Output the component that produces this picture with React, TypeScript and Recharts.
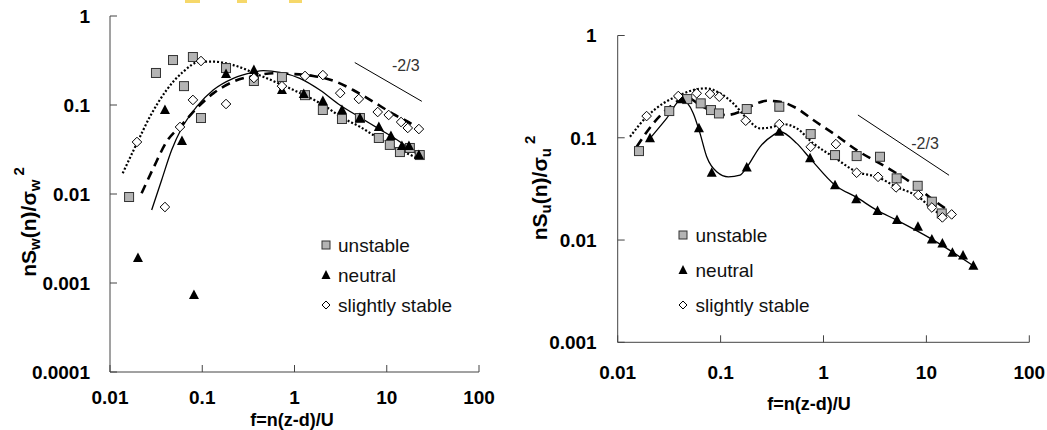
import React from 'react';
import {
  ComposedChart,
  Line,
  Scatter,
  XAxis,
  YAxis,
  Legend,
  ReferenceLine,
  ReferenceDot,
} from 'recharts';

type P = { x: number; y: number };

// ---------- axis ticks ----------
const xTicks = [0.01, 0.1, 1, 10, 100];
const yTicksW = [0.0001, 0.001, 0.01, 0.1, 1];
const yTicksU = [0.001, 0.01, 0.1, 1];
const seriesNames = ['unstable', 'neutral', 'slightly stable'];
const xTitle = 'f=n(z-d)/U';
const slopeText = '-2/3';

// ---------- left panel: nSw(n)/sigma_w^2 ----------
const wUnstable: P[] = [
  { x: 0.0161, y: 0.00925 }, { x: 0.0315, y: 0.229 }, { x: 0.0482, y: 0.32 },
  { x: 0.0792, y: 0.346 }, { x: 0.0634, y: 0.163 }, { x: 0.0969, y: 0.0714 },
  { x: 0.181, y: 0.26 }, { x: 0.363, y: 0.186 }, { x: 0.731, y: 0.206 },
  { x: 1.3, y: 0.129 }, { x: 2.03, y: 0.0879 }, { x: 3.27, y: 0.0696 },
  { x: 5.12, y: 0.0714 }, { x: 8.21, y: 0.0426 }, { x: 10.8, y: 0.0356 },
  { x: 13.9, y: 0.0296 }, { x: 17.8, y: 0.0329 }, { x: 22.8, y: 0.0274 },
];
const wNeutral: P[] = [
  { x: 0.0201, y: 0.00191 }, { x: 0.0394, y: 0.0879 }, { x: 0.0603, y: 0.0394 },
  { x: 0.0813, y: 0.000733 }, { x: 0.181, y: 0.223 }, { x: 0.363, y: 0.247 },
  { x: 0.731, y: 0.147 }, { x: 1.26, y: 0.133 }, { x: 2.03, y: 0.111 },
  { x: 3.27, y: 0.0879 }, { x: 5.12, y: 0.0714 }, { x: 8.21, y: 0.0566 },
  { x: 11.1, y: 0.0448 }, { x: 14.6, y: 0.0346 }, { x: 17.4, y: 0.0346 },
  { x: 22.3, y: 0.0274 },
];
const wStable: P[] = [
  { x: 0.0196, y: 0.0384 }, { x: 0.0394, y: 0.00714 }, { x: 0.0574, y: 0.0566 },
  { x: 0.0792, y: 0.114 }, { x: 0.0969, y: 0.312 }, { x: 0.181, y: 0.1026 },
  { x: 0.363, y: 0.201 }, { x: 0.731, y: 0.163 }, { x: 1.3, y: 0.212 },
  { x: 2.03, y: 0.217 }, { x: 3.13, y: 0.136 }, { x: 4.98, y: 0.117 },
  { x: 7.98, y: 0.0834 }, { x: 10.5, y: 0.0772 }, { x: 14.3, y: 0.0644 },
  { x: 16.9, y: 0.0552 }, { x: 22.3, y: 0.0537 },
];
const wDottedFit: P[] = [
  { x: 0.01373, y: 0.0171 }, { x: 0.0198, y: 0.0381 }, { x: 0.0271, y: 0.0739 },
  { x: 0.0411, y: 0.1475 }, { x: 0.0622, y: 0.2366 }, { x: 0.0944, y: 0.307 },
  { x: 0.1315, y: 0.307 }, { x: 0.217, y: 0.281 }, { x: 0.372, y: 0.227 },
  { x: 0.736, y: 0.168 }, { x: 1.274, y: 0.1295 }, { x: 2.05, y: 0.1 },
  { x: 3.24, y: 0.0727 }, { x: 5.11, y: 0.057 }, { x: 8.15, y: 0.0423 },
  { x: 13.87, y: 0.0312 }, { x: 21.9, y: 0.0252 },
];
const wDashedFit: P[] = [
  { x: 0.022, y: 0.0102 }, { x: 0.0294, y: 0.0194 }, { x: 0.0411, y: 0.0387 },
  { x: 0.0598, y: 0.0596 }, { x: 0.0869, y: 0.0918 }, { x: 0.1315, y: 0.135 },
  { x: 0.217, y: 0.183 }, { x: 0.357, y: 0.212 }, { x: 0.588, y: 0.227 },
  { x: 0.968, y: 0.223 }, { x: 1.595, y: 0.212 }, { x: 2.63, y: 0.1875 },
  { x: 4.32, y: 0.1475 }, { x: 7.13, y: 0.109 }, { x: 11.7, y: 0.0793 },
  { x: 19.3, y: 0.0596 }, { x: 22.8, y: 0.0524 },
];
const wSolidFit: P[] = [
  { x: 0.0283, y: 0.0066 }, { x: 0.0363, y: 0.01436 }, { x: 0.0466, y: 0.0312 },
  { x: 0.0598, y: 0.0547 }, { x: 0.0869, y: 0.0957 }, { x: 0.1315, y: 0.1475 },
  { x: 0.217, y: 0.1995 }, { x: 0.357, y: 0.233 }, { x: 0.458, y: 0.243 },
  { x: 0.695, y: 0.233 }, { x: 1.143, y: 0.1995 }, { x: 1.883, y: 0.1475 },
  { x: 3.1, y: 0.1 }, { x: 5.11, y: 0.0727 }, { x: 8.41, y: 0.0533 },
  { x: 13.87, y: 0.0387 }, { x: 22.4, y: 0.0267 },
];

// ---------- right panel: nSu(n)/sigma_u^2 ----------
const uUnstable: P[] = [
  { x: 0.0161, y: 0.0741 }, { x: 0.0317, y: 0.1825 }, { x: 0.0474, y: 0.239 },
  { x: 0.0641, y: 0.217 }, { x: 0.0807, y: 0.1866 }, { x: 0.0964, y: 0.173 },
  { x: 0.1795, y: 0.191 }, { x: 0.372, y: 0.201 }, { x: 0.751, y: 0.1087 },
  { x: 1.294, y: 0.0677 }, { x: 2.1, y: 0.0662 }, { x: 3.54, y: 0.0652 },
  { x: 5.14, y: 0.0401 }, { x: 8.23, y: 0.0339 }, { x: 11.3, y: 0.0237 },
  { x: 14.1, y: 0.0182 },
];
const uNeutral: P[] = [
  { x: 0.0206, y: 0.0987 }, { x: 0.0419, y: 0.2375 }, { x: 0.0616, y: 0.1236 },
  { x: 0.082, y: 0.0455 }, { x: 0.1795, y: 0.0513 }, { x: 0.372, y: 0.1145 },
  { x: 0.74, y: 0.0629 }, { x: 1.294, y: 0.0344 }, { x: 2.08, y: 0.0251 },
  { x: 3.35, y: 0.0192 }, { x: 5.18, y: 0.01566 }, { x: 8.28, y: 0.01346 },
  { x: 11.3, y: 0.0101 }, { x: 14.3, y: 0.00927 }, { x: 17.9, y: 0.0075 },
  { x: 22.7, y: 0.00704 }, { x: 28.6, y: 0.0056 },
];
const uStable: P[] = [
  { x: 0.0191, y: 0.163 }, { x: 0.0388, y: 0.256 }, { x: 0.0586, y: 0.272 },
  { x: 0.0789, y: 0.268 }, { x: 0.097, y: 0.252 }, { x: 0.1754, y: 0.1467 },
  { x: 0.372, y: 0.136 }, { x: 0.751, y: 0.0816 }, { x: 1.32, y: 0.0867 },
  { x: 2.1, y: 0.0455 }, { x: 3.39, y: 0.0415 }, { x: 5.07, y: 0.0327 },
  { x: 8.34, y: 0.0275 }, { x: 11.3, y: 0.0208 }, { x: 14.3, y: 0.01664 },
  { x: 17.6, y: 0.0178 },
];
const uDottedFit: P[] = [
  { x: 0.01317, y: 0.1023 }, { x: 0.0191, y: 0.1604 }, { x: 0.0277, y: 0.217 },
  { x: 0.0403, y: 0.262 }, { x: 0.0586, y: 0.298 }, { x: 0.0733, y: 0.304 },
  { x: 0.0986, y: 0.272 }, { x: 0.1327, y: 0.217 }, { x: 0.1795, y: 0.155 },
  { x: 0.2415, y: 0.1236 }, { x: 0.325, y: 0.128 }, { x: 0.406, y: 0.136 },
  { x: 0.55, y: 0.1236 }, { x: 0.796, y: 0.0881 }, { x: 1.245, y: 0.0652 },
  { x: 2.1, y: 0.0465 }, { x: 3.39, y: 0.0411 }, { x: 5.07, y: 0.0332 },
  { x: 8.34, y: 0.0265 }, { x: 11.3, y: 0.0204 }, { x: 14.6, y: 0.01687 },
];
const uDashedFit: P[] = [
  { x: 0.0153, y: 0.0816 }, { x: 0.0222, y: 0.1384 }, { x: 0.0322, y: 0.201 },
  { x: 0.0469, y: 0.248 }, { x: 0.0631, y: 0.209 }, { x: 0.0849, y: 0.1797 },
  { x: 0.1145, y: 0.1668 }, { x: 0.1545, y: 0.1797 }, { x: 0.208, y: 0.209 },
  { x: 0.2806, y: 0.23 }, { x: 0.3776, y: 0.225 }, { x: 0.55, y: 0.194 },
  { x: 0.796, y: 0.149 }, { x: 1.245, y: 0.1104 }, { x: 2.1, y: 0.0758 },
  { x: 4.43, y: 0.0491 }, { x: 7.46, y: 0.0352 }, { x: 11.7, y: 0.0246 },
  { x: 15.2, y: 0.0204 },
];
const uSolidFit: P[] = [
  { x: 0.0206, y: 0.0987 }, { x: 0.0299, y: 0.155 }, { x: 0.0419, y: 0.2375 },
  { x: 0.0543, y: 0.173 }, { x: 0.0631, y: 0.1104 }, { x: 0.0733, y: 0.0652 },
  { x: 0.0916, y: 0.0465 }, { x: 0.1189, y: 0.0415 }, { x: 0.1545, y: 0.0431 },
  { x: 0.1795, y: 0.0513 }, { x: 0.2415, y: 0.0816 }, { x: 0.325, y: 0.1062 },
  { x: 0.3776, y: 0.1145 }, { x: 0.55, y: 0.0881 }, { x: 0.74, y: 0.0629 },
  { x: 1.294, y: 0.0344 }, { x: 2.1, y: 0.0261 }, { x: 3.29, y: 0.0196 },
  { x: 5.14, y: 0.01566 }, { x: 11.7, y: 0.00998 }, { x: 28.6, y: 0.0056 },
];

// slope guide lines (data coordinates)
const wSlope: P[] = [{ x: 4.5, y: 0.3 }, { x: 24, y: 0.11 }];
const wSlopeLabel: P = { x: 16.1, y: 0.28 };
const uSlope: P[] = [{ x: 2.16, y: 0.167 }, { x: 16.6, y: 0.043 }];
const uSlopeLabel: P = { x: 9.7, y: 0.089 };

// ---------- styling ----------
const FONT = '"Liberation Sans", Arial, sans-serif';
const tickStyle = { fill: '#000', fontSize: 19, fontWeight: 700, fontFamily: FONT };
const AXIS = '#444';

const SquareMark = (props: any) => {
  const { cx, cy } = props;
  if (cx == null || cy == null) return null;
  return <rect x={cx - 4.5} y={cy - 4.5} width={9} height={9} fill="#b4b4b4" stroke="#333" strokeWidth={1} />;
};
const TriMark = (props: any) => {
  const { cx, cy } = props;
  if (cx == null || cy == null) return null;
  return <polygon points={`${cx},${cy - 5.5} ${cx + 5},${cy + 4} ${cx - 5},${cy + 4}`} fill="#000" />;
};
const DiaMark = (props: any) => {
  const { cx, cy } = props;
  if (cx == null || cy == null) return null;
  return (
    <polygon
      points={`${cx},${cy - 4.8} ${cx + 4.8},${cy} ${cx},${cy + 4.8} ${cx - 4.8},${cy}`}
      fill="#fff"
      stroke="#000"
      strokeWidth={1}
    />
  );
};

const legendIcon = (name: string) => {
  if (name === seriesNames[0]) return <rect x={4} y={4} width={8} height={8} fill="#b4b4b4" stroke="#333" strokeWidth={1} />;
  if (name === seriesNames[1]) return <polygon points="8,3 12.5,12 3.5,12" fill="#000" />;
  return <polygon points="8,4 12,8 8,12 4,8" fill="#fff" stroke="#000" strokeWidth={1} />;
};

const makeLegend = (rowH: number, gap: number) => (props: any) => {
  const payload = (props.payload || [])
    .filter((p: any) => seriesNames.includes(p.value))
    .sort((a: any, b: any) => seriesNames.indexOf(a.value) - seriesNames.indexOf(b.value));
  return (
    <div style={{ fontFamily: FONT, fontSize: 19, color: '#111' }}>
      {payload.map((p: any) => (
        <div key={p.value} style={{ height: rowH, display: 'flex', alignItems: 'center' }}>
          <svg width={16} height={16} style={{ display: 'block' }}>{legendIcon(p.value)}</svg>
          <span style={{ marginLeft: gap, lineHeight: 1, whiteSpace: 'nowrap' }}>{p.value}</span>
        </div>
      ))}
    </div>
  );
};

const YTitle = (props: any) => {
  const { px, py, sub } = props;
  return (
    <text
      transform={`translate(${px},${py}) rotate(-90)`}
      textAnchor="middle"
      fontFamily={FONT}
      fontWeight={700}
      fontSize={21}
      fill="#000"
    >
      nS
      <tspan fontSize={15} dy={4}>{sub}</tspan>
      <tspan dy={-4}>(n)/σ</tspan>
      <tspan fontSize={15} dy={4}>{sub}</tspan>
      <tspan fontSize={15} dy={-16} dx={4}>2</tspan>
    </text>
  );
};

const XTitle = (props: any) => {
  const { px, py } = props;
  return (
    <text x={px} y={py} textAnchor="middle" fontFamily={FONT} fontWeight={700} fontSize={18} fill="#000">
      {xTitle}
    </text>
  );
};

const fmt = (v: number) => String(v);

const fitLine = (data: P[], dash: string | undefined, width: number, key: string) => (
  <Line
    key={key}
    data={data}
    dataKey="y"
    type="monotone"
    stroke="#000"
    strokeWidth={width}
    strokeDasharray={dash}
    dot={false}
    activeDot={false}
    legendType="none"
    isAnimationActive={false}
  />
);

export default function App() {
  return (
    <div style={{ position: 'absolute', left: 0, top: 0, width: 1047, height: 430, background: '#fff', overflow: 'hidden' }}>
      {/* cropped caption fragments at the top edge */}
      <div style={{ position: 'absolute', left: 185, top: 0, width: 15, height: 3, background: '#f6d86a' }} />
      <div style={{ position: 'absolute', left: 237, top: 0, width: 10, height: 3, background: '#f6d86a' }} />
      <div style={{ position: 'absolute', left: 289, top: 0, width: 13, height: 3, background: '#f6d86a' }} />

      {/* left panel */}
      <div style={{ position: 'absolute', left: 0, top: 0 }}>
        <ComposedChart width={520} height={430} margin={{ top: 16, right: 41, bottom: 0, left: 0 }}>
          <XAxis
            type="number"
            dataKey="x"
            scale="log"
            domain={[0.01, 100]}
            ticks={xTicks}
            interval={0}
            tickFormatter={fmt}
            height={58}
            tickSize={-7}
            tickMargin={26}
            tick={tickStyle}
            axisLine={{ stroke: AXIS }}
            tickLine={{ stroke: AXIS }}
            allowDataOverflow
            label={<XTitle px={292} py={426} />}
          />
          <YAxis
            type="number"
            dataKey="y"
            scale="log"
            domain={[0.0001, 1]}
            ticks={yTicksW}
            interval={0}
            tickFormatter={fmt}
            width={110}
            tickSize={-7}
            tickMargin={27}
            tick={tickStyle}
            axisLine={{ stroke: AXIS }}
            tickLine={{ stroke: AXIS }}
            allowDataOverflow
            label={<YTitle px={36} py={222} sub="w" />}
          />
          {fitLine(wDottedFit, '2 2', 2.2, 'wdot')}
          {fitLine(wDashedFit, '9 6', 2.6, 'wdash')}
          {fitLine(wSolidFit, undefined, 1.3, 'wsolid')}
          <ReferenceLine segment={wSlope} stroke="#000" strokeWidth={1} ifOverflow="visible" />
          <ReferenceDot
            x={wSlopeLabel.x}
            y={wSlopeLabel.y}
            r={0}
            fill="none"
            stroke="none"
            ifOverflow="visible"
            label={{ value: slopeText, position: 'center', fill: '#333', fontSize: 16, fontFamily: FONT }}
          />
          <Scatter name={seriesNames[0]} data={wUnstable} shape={SquareMark} isAnimationActive={false} />
          <Scatter name={seriesNames[1]} data={wNeutral} shape={TriMark} isAnimationActive={false} />
          <Scatter name={seriesNames[2]} data={wStable} shape={DiaMark} isAnimationActive={false} />
          <Legend
            layout="vertical"
            align="center"
            verticalAlign="middle"
            content={makeLegend(30, 4)}
            wrapperStyle={{ left: 318, top: 230, right: 'auto', bottom: 'auto', width: 200 }}
          />
        </ComposedChart>
      </div>

      {/* right panel */}
      <div style={{ position: 'absolute', left: 520, top: 0 }}>
        <ComposedChart width={527} height={430} margin={{ top: 35.5, right: 17.7, bottom: 0, left: 0 }}>
          <XAxis
            type="number"
            dataKey="x"
            scale="log"
            domain={[0.01, 100]}
            ticks={xTicks}
            interval={0}
            tickFormatter={fmt}
            height={87.7}
            tickSize={-7}
            tickMargin={30}
            tick={tickStyle}
            axisLine={{ stroke: AXIS }}
            tickLine={{ stroke: AXIS }}
            allowDataOverflow
            label={<XTitle px={289} py={410} />}
          />
          <YAxis
            type="number"
            dataKey="y"
            scale="log"
            domain={[0.001, 1]}
            ticks={yTicksU}
            interval={0}
            tickFormatter={fmt}
            width={97.7}
            tickSize={-7}
            tickMargin={28}
            tick={tickStyle}
            axisLine={{ stroke: AXIS }}
            tickLine={{ stroke: AXIS }}
            allowDataOverflow
            label={<YTitle px={27} py={188} sub="u" />}
          />
          {fitLine(uDottedFit, '2 2', 2.2, 'udot')}
          {fitLine(uDashedFit, '9 6', 2.6, 'udash')}
          {fitLine(uSolidFit, undefined, 1.3, 'usolid')}
          <ReferenceLine segment={uSlope} stroke="#000" strokeWidth={1} ifOverflow="visible" />
          <ReferenceDot
            x={uSlopeLabel.x}
            y={uSlopeLabel.y}
            r={0}
            fill="none"
            stroke="none"
            ifOverflow="visible"
            label={{ value: slopeText, position: 'center', fill: '#333', fontSize: 16, fontFamily: FONT }}
          />
          <Scatter name={seriesNames[0]} data={uUnstable} shape={SquareMark} isAnimationActive={false} />
          <Scatter name={seriesNames[1]} data={uNeutral} shape={TriMark} isAnimationActive={false} />
          <Scatter name={seriesNames[2]} data={uStable} shape={DiaMark} isAnimationActive={false} />
          <Legend
            layout="vertical"
            align="center"
            verticalAlign="middle"
            content={makeLegend(35, 5)}
            wrapperStyle={{ left: 154.5, top: 217.5, right: 'auto', bottom: 'auto', width: 220 }}
          />
        </ComposedChart>
      </div>
    </div>
  );
}
